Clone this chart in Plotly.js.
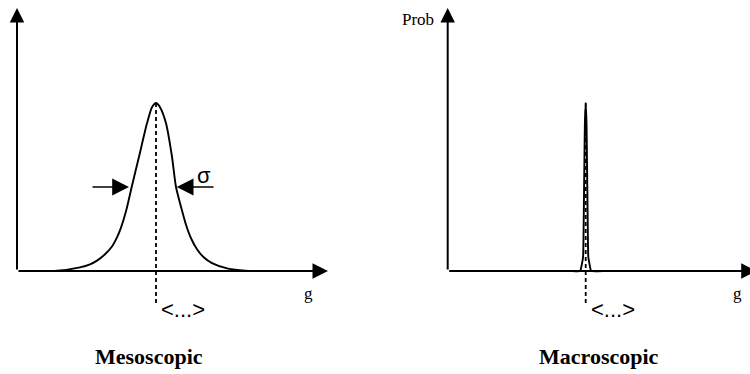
<!DOCTYPE html>
<html>
<head>
<meta charset="utf-8">
<script src="https://cdn.plot.ly/plotly-3.0.1.min.js"></script>
<style>
  html, body { margin: 0; padding: 0; background: #fff; }
  #chart { width: 750px; height: 374px; }
</style>
</head>
<body>
<div id="chart"></div>
<script>
// Mesoscopic distribution: a broad peak of probability around the mean
const mesoG    = [1.7, 4.0, 6.3, 7.3, 8.0, 8.8, 9.5, 10.0, 10.4, 10.9, 11.47, 12.2, 13.0, 13.5, 13.9, 14.3, 14.9, 15.5, 15.9, 16.5, 16.9, 17.4, 18.0, 18.7, 19.5, 21.1, 22.8, 25.0];
const mesoProb = [0, 0.002, 0.022, 0.04, 0.062, 0.1, 0.146, 0.2, 0.258, 0.355, 0.50, 0.68, 0.879, 0.975, 1.0, 0.975, 0.879, 0.68, 0.50, 0.36, 0.275, 0.195, 0.13, 0.08, 0.047, 0.014, 0.002, 0];
const mesoMean = 13.9;

// Macroscopic distribution: a very sharp spike at the mean
const macroG    = [12.5, 13.25, 13.4, 13.54, 13.58, 13.61, 13.64, 13.68, 13.72, 13.8, 13.88, 13.92, 13.96, 13.99, 14.02, 14.06, 14.2, 14.35, 15.5];
const macroProb = [0, 0, 0.035, 0.085, 0.2, 0.35, 0.5, 0.7, 0.88, 1.0, 0.88, 0.7, 0.5, 0.35, 0.2, 0.085, 0.035, 0, 0];
const macroMean = 13.8;

// Extent of the hand-drawn axes and the width marker
const axisTipG = 31.1;
const axisTipGRight = 30.9;
const axisTipProb = 1.565;
const meanLineBottom = -0.19;
const sigmaLevel = 0.5;
const sigmaLeft = [7.4, 11.2];
const sigmaRight = [19.8, 15.97];

const panelTitles = ['Mesoscopic', 'Macroscopic'];
const meanLabel = '<...>';
const gLabel = 'g';
const probLabel = 'Prob';
const sigmaLabel = 'σ';

const curveLine = {color: '#000', width: 1.9, shape: 'spline', smoothing: 0.7};
const meanLine = {color: '#000', width: 1.8, dash: '4px,3px'};

const traces = [
  {x: mesoG, y: mesoProb, xaxis: 'x', yaxis: 'y', mode: 'lines', line: curveLine, hoverinfo: 'skip'},
  {x: [mesoMean, mesoMean], y: [1.0, meanLineBottom], xaxis: 'x', yaxis: 'y', mode: 'lines', line: meanLine, hoverinfo: 'skip'},
  {x: macroG, y: macroProb, xaxis: 'x2', yaxis: 'y2', mode: 'lines', line: Object.assign({}, curveLine, {smoothing: 0.4}), hoverinfo: 'skip'},
  {x: [macroMean, macroMean], y: [1.0, meanLineBottom], xaxis: 'x2', yaxis: 'y2', mode: 'lines', line: meanLine, hoverinfo: 'skip'}
];

const bareAxis = {showgrid: false, zeroline: false, showticklabels: false, showline: false, ticks: '', fixedrange: true};

function arrow(xr, yr, tipX, tipY, tailX, tailY, width, size) {
  return {
    xref: xr, yref: yr, axref: xr, ayref: yr,
    x: tipX, y: tipY, ax: tailX, ay: tailY,
    text: '', showarrow: true, arrowhead: 2,
    arrowwidth: width, arrowsize: size, arrowcolor: '#000', standoff: 0, startstandoff: 0
  };
}

function label(xr, yr, x, y, text, family, size, weight) {
  return {
    xref: xr, yref: yr, x: x, y: y, text: text, showarrow: false,
    xanchor: 'center', yanchor: 'middle',
    font: {family: family, size: size, color: '#000', weight: weight || 'normal'}
  };
}

const serif = '"Liberation Serif", "Times New Roman", serif';
const sans = '"Liberation Sans", Arial, sans-serif';

const annotations = [
  // axes
  arrow('x', 'y', 0, axisTipProb, 0, 0, 2, 1.45),
  arrow('x', 'y', axisTipG, 0, 0, 0, 2, 1.55),
  arrow('x2', 'y2', 0, axisTipProb, 0, 0, 2, 1.45),
  arrow('x2', 'y2', axisTipGRight, 0, 0, 0, 2, 1.55),
  // width marker
  arrow('x', 'y', sigmaLeft[1], sigmaLevel, sigmaLeft[0], sigmaLevel, 1.6, 2.1),
  arrow('x', 'y', sigmaRight[1], sigmaLevel, sigmaRight[0], sigmaLevel, 1.6, 2.1),
  label('x', 'y', 18.7, 0.57, sigmaLabel, sans, 22),
  // mean and axis labels
  label('x', 'y', 16.55, -0.232, meanLabel, sans, 22),
  label('x2', 'y2', 16.53, -0.232, meanLabel, sans, 22),
  label('x', 'y', 29.1, -0.131, gLabel, serif, 17),
  label('x2', 'y2', 28.98, -0.131, gLabel, serif, 17),
  label('x2', 'y2', -2.97, 1.494, probLabel, serif, 17),
  // panel titles
  label('paper', 'paper', 0.1993, 0.0455, panelTitles[0], serif, 22, 'bold'),
  label('paper', 'paper', 0.7987, 0.0455, panelTitles[1], serif, 22, 'bold')
];

const layout = {
  width: 750, height: 374,
  margin: {l: 0, r: 0, t: 0, b: 0, pad: 0},
  paper_bgcolor: '#fff', plot_bgcolor: '#fff',
  showlegend: false,
  xaxis: Object.assign({domain: [0, 0.5], range: [-1.7, 35.8]}, bareAxis),
  yaxis: Object.assign({domain: [0, 1], range: [-0.613, 1.613], anchor: 'x'}, bareAxis),
  xaxis2: Object.assign({domain: [0.5, 1], range: [-7.27, 30.23], anchor: 'y2'}, bareAxis),
  yaxis2: Object.assign({domain: [0, 1], range: [-0.613, 1.613], anchor: 'x2'}, bareAxis),
  annotations: annotations
};

Plotly.newPlot('chart', traces, layout, {staticPlot: true, displayModeBar: false});
</script>
</body>
</html>
